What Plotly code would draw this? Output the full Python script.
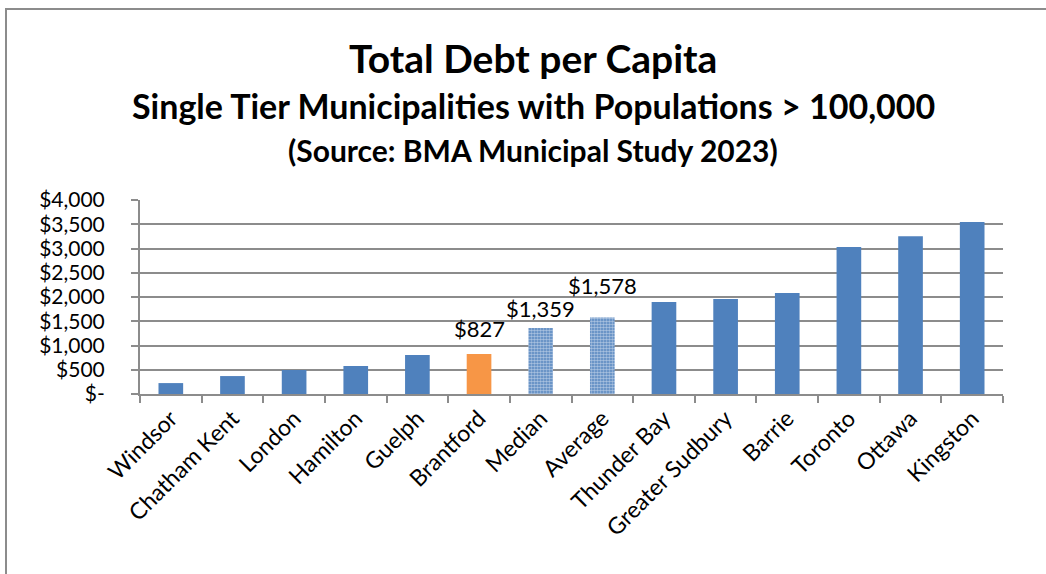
import plotly.graph_objects as go

categories = ["Windsor", "Chatham Kent", "London", "Hamilton", "Guelph", "Brantford",
              "Median", "Average", "Thunder Bay", "Greater Sudbury", "Barrie",
              "Toronto", "Ottawa", "Kingston"]
values = [225, 370, 495, 578, 805, 827, 1359, 1578, 1897, 1960, 2082, 3030, 3255, 3545]
labels = ["", "", "", "", "", "$827", "$1,359", "$1,578", "", "", "", "", "", ""]
tick_vals = [0, 500, 1000, 1500, 2000, 2500, 3000, 3500, 4000]
tick_text = ["$-", "$500", "$1,000", "$1,500", "$2,000", "$2,500", "$3,000", "$3,500", "$4,000"]

BLUE = "#4F81BD"
ORANGE = "#F79646"
colors = []
shapes = []
for c in categories:
    if c == "Brantford":
        colors.append(ORANGE); shapes.append("")
    elif c in ("Median", "Average"):
        colors.append(BLUE); shapes.append(".")
    else:
        colors.append(BLUE); shapes.append("")

FONT = "Lato"
label_shift = {"Brantford": 10, "Median": 4, "Average": 16}

fig = go.Figure(go.Bar(
    x=categories, y=values,
    marker=dict(color=colors, line=dict(width=0),
                pattern=dict(shape=shapes, fgcolor="white",
                             size=3, solidity=0.6, fillmode="overlay")),
))

annotations = [
    dict(text="<b>Total Debt per Capita</b>", xref="paper", yref="paper",
         x=(533 - 140) / 863, y=(394 - 58) / 194, showarrow=False,
         font=dict(size=39, family=FONT), xanchor="center", yanchor="middle"),
    dict(text="<b>Single Tier Municipalities with Populations > 100,000</b>", xref="paper", yref="paper",
         x=(533 - 140) / 863, y=(394 - 106) / 194, showarrow=False,
         font=dict(size=34, family=FONT), xanchor="center", yanchor="middle"),
    dict(text="<b>(Source: BMA Municipal Study 2023)</b>", xref="paper", yref="paper",
         x=(533 - 140) / 863, y=(394 - 150) / 194, showarrow=False,
         font=dict(size=30, family=FONT), xanchor="center", yanchor="middle"),
]
for c, v, t in zip(categories, values, labels):
    if t:
        annotations.append(dict(text=t, x=c, y=v, xref="x", yref="y", showarrow=False,
                                xanchor="center", yanchor="bottom", yshift=label_shift[c],
                                font=dict(size=22, family=FONT, color="black")))

fig.update_layout(
    width=1046, height=574,
    margin=dict(l=140, r=43, t=200, b=180),
    paper_bgcolor="white", plot_bgcolor="white",
    bargap=0.6, showlegend=False,
    font=dict(family=FONT, color="black"),
    xaxis=dict(tickangle=-45, tickfont=dict(size=23, family=FONT),
               showline=True, linecolor="#8c8c8c", linewidth=2,
               ticks="outside", tickson="boundaries", ticklen=7, tickcolor="#8c8c8c",
               tickwidth=2, showgrid=False),
    yaxis=dict(range=[0, 4000], tickvals=tick_vals, ticktext=tick_text,
               tickfont=dict(size=21, family=FONT), ticklabelstandoff=22,
               showline=True, linecolor="#8c8c8c", linewidth=2,
               ticks="outside", ticklen=7, tickcolor="#8c8c8c", tickwidth=2,
               gridcolor="#8c8c8c", gridwidth=1.5, zeroline=False),
    annotations=annotations,
    shapes=[dict(type="rect", xref="paper", yref="paper",
                 x0=(6 - 140) / 863, x1=1.2, y0=-1.5, y1=(394 - 9) / 194,
                 line=dict(color="#8c8c8c", width=2), layer="below")],
)

fig.write_html("out.html")
